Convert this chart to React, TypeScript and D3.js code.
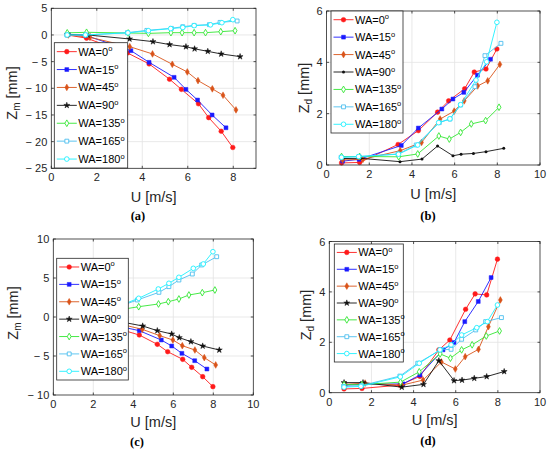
import { useEffect, useRef } from 'react';
import * as d3 from 'd3';

// wind angle labels and series styles
const waLabels = ['0', '15', '45', '90', '135', '165', '180'];
const waColors = ['#ff1a1a', '#1a1aff', '#d95319', '#111111', '#33e633', '#4dbeee', '#1ef0ff'];
const waMarkers = ['circle', 'square', 'diamond', 'star', 'diamondOpen', 'squareOpen', 'circleOpen'];

// wind speed U [m/s] for each series
const uWA0 = [0.7, 1.55, 3.35, 4.3, 5.2, 5.72, 6.47, 6.92, 7.47, 7.98];
const uWA15 = [0.75, 1.52, 3.5, 4.3, 5.4, 5.92, 6.43, 7.07, 7.68];
const uWA45 = [0.75, 1.7, 3.45, 4.45, 5.32, 5.98, 6.45, 7.08, 7.55, 8.12];
const uWA90 = [0.7, 1.6, 3.44, 4.47, 5.2, 5.92, 6.3, 6.88, 7.47, 8.3];
const uWA135 = [0.7, 1.55, 3.38, 4.27, 5.26, 5.75, 6.28, 6.78, 7.45, 8.08];
const uWA165 = [0.68, 1.52, 3.35, 4.2, 5.28, 5.78, 6.28, 6.95, 7.42, 8.17];
const uWA180 = [0.7, 1.5, 3.37, 4.27, 5.25, 5.78, 6.28, 7.0, 7.5, 7.98];
const uSeries = [uWA0, uWA15, uWA45, uWA90, uWA135, uWA165, uWA180];

// (a) Zm
const aWA0 = [0, -0.6, -3.37, -5.43, -8.3, -10.2, -12.9, -15.5, -18.05, -21.1];
const aWA15 = [0.1, -0.1, -2.94, -5.13, -7.94, -10.2, -12.2, -15.0, -17.4];
const aWA45 = [0, -0.44, -2.2, -3.56, -5.5, -6.93, -8.56, -10.1, -11.3, -14.05];
const aWA90 = [0.1, 0, -0.75, -1.25, -1.8, -2.2, -2.6, -3.07, -3.56, -4.06];
const aWA135 = [0.4, 0.5, 0.37, 0.3, 0.43, 0.43, 0.43, 0.43, 0.62, 0.8];
const aWA165 = [0, 0, 0.43, 0.86, 1.24, 1.55, 1.8, 1.93, 2.36, 2.62];
const aWA180 = [0, 0, 0.4, 0.8, 1.2, 1.4, 1.75, 1.9, 2.3, 2.87];

// (b) Zd
const bWA0 = [0.08, 0.1, 0.8, 1.34, 2.06, 2.5, 2.97, 3.62, 3.74, 4.52];
const bWA15 = [0.15, 0.22, 0.76, 1.44, 2.18, 2.57, 2.83, 3.5, 4.12];
const bWA45 = [0.2, 0.22, 0.56, 0.88, 1.79, 2.1, 2.5, 3.08, 3.28, 3.92];
const bWA90 = [0.25, 0.26, 0.13, 0.23, 0.74, 0.36, 0.42, 0.45, 0.52, 0.65];
const bWA135 = [0.33, 0.33, 0.32, 0.43, 1.13, 1.01, 1.27, 1.6, 1.73, 2.25];
const bWA165 = [0.3, 0.33, 0.43, 0.78, 1.65, 1.79, 2.34, 3.05, 4.26, 4.74];
const bWA180 = [0.3, 0.33, 0.42, 0.78, 1.65, 1.8, 2.35, 3.31, 4.02, 5.56];

// (c) Zm
const cWA0 = [0, -0.4, -1.58, -2.31, -3.5, -4.45, -5.43, -6.45, -7.65, -8.93];
const cWA15 = [0, -0.3, -1.31, -1.75, -2.95, -3.72, -4.66, -5.6, -6.67];
const cWA45 = [0, -0.25, -0.97, -1.58, -2.39, -2.95, -3.68, -4.23, -5.21, -6.15];
const cWA90 = [0, -0.2, -0.65, -1.15, -1.75, -2.18, -2.65, -3.16, -3.72, -4.23];
const cWA135 = [0.2, 0.4, 0.95, 1.32, 1.67, 1.96, 2.31, 2.82, 3.12, 3.46];
const cWA165 = [0.2, 0.5, 1.4, 2.18, 3.16, 3.89, 4.74, 5.51, 6.67, 7.73];
const cWA180 = [0.2, 0.5, 1.5, 2.4, 3.59, 4.32, 5.09, 6.24, 6.8, 8.37];

// (d) Zd
const dWA0 = [0.15, 0.17, 0.3, 0.65, 1.7, 2.09, 3.31, 3.92, 3.88, 5.3];
const dWA15 = [0.3, 0.33, 0.35, 0.7, 1.7, 1.99, 2.82, 3.62, 4.57];
const dWA45 = [0.33, 0.38, 0.3, 0.5, 1.22, 0.94, 1.43, 1.72, 2.62, 3.68];
const dWA90 = [0.4, 0.4, 0.22, 0.33, 1.27, 0.48, 0.5, 0.57, 0.64, 0.84];
const dWA135 = [0.32, 0.32, 0.42, 0.83, 1.54, 1.37, 1.7, 1.9, 2.25, 2.45];
const dWA165 = [0.25, 0.28, 0.66, 1.17, 1.7, 1.72, 2.12, 2.49, 2.82, 2.98];
const dWA180 = [0.22, 0.25, 0.63, 1.17, 1.7, 1.9, 2.29, 2.58, 2.82, 3.48];

const panels = [
  {
    key: 'a', left: 51.3, right: 256, top: 8.3, bottom: 168.3,
    xDomain: [0, 9], yDomain: [-25, 5], xTicks: [0, 2, 4, 6, 8], yTicks: [-25, -20, -15, -10, -5, 0, 5],
    sub: 'm', data: [aWA0, aWA15, aWA45, aWA90, aWA135, aWA165, aWA180],
    legend: { x: 54.3, y: 42.7, w: 73.4, h: 125.3 }, dot90: false,
    yLabel: { x: 17, y: 93 }, xLabelY: 202, caption: { x: 138, y: 220 },
  },
  {
    key: 'b', left: 326.6, right: 540, top: 11, bottom: 165,
    xDomain: [0, 10], yDomain: [0, 6], xTicks: [0, 2, 4, 6, 8, 10], yTicks: [0, 2, 4, 6],
    sub: 'd', data: [bWA0, bWA15, bWA45, bWA90, bWA135, bWA165, bWA180],
    legend: { x: 331, y: 11, w: 72, h: 122 }, dot90: true,
    yLabel: { x: 309, y: 88 }, xLabelY: 199, caption: { x: 428, y: 220 },
  },
  {
    key: 'c', left: 53.3, right: 253.3, top: 239, bottom: 395,
    xDomain: [0, 10], yDomain: [-10, 10], xTicks: [0, 2, 4, 6, 8, 10], yTicks: [-10, -5, 0, 5, 10],
    sub: 'm', data: [cWA0, cWA15, cWA45, cWA90, cWA135, cWA165, cWA180],
    legend: { x: 56.7, y: 258.3, w: 71.6, h: 121.7 }, dot90: false,
    yLabel: { x: 18, y: 313 }, xLabelY: 427, caption: { x: 137, y: 446 },
  },
  {
    key: 'd', left: 329.3, right: 540, top: 241.5, bottom: 392.7,
    xDomain: [0, 10], yDomain: [0, 6], xTicks: [0, 2, 4, 6, 8, 10], yTicks: [0, 2, 4, 6],
    sub: 'd', data: [dWA0, dWA15, dWA45, dWA90, dWA135, dWA165, dWA180],
    legend: { x: 334.3, y: 244, w: 69, h: 118 }, dot90: false,
    yLabel: { x: 311, y: 315 }, xLabelY: 425, caption: { x: 428, y: 445 },
  },
];

const FONT = '"Liberation Sans", Arial, sans-serif';

function drawMarker(g: any, kind: string, x: number, y: number, color: string, dot: boolean) {
  if (dot && kind === 'star') {
    g.append('circle').attr('cx', x).attr('cy', y).attr('r', 1.5).attr('fill', color);
    return;
  }
  const open = kind.endsWith('Open');
  const base = kind.replace('Open', '');
  const type =
    base === 'circle' ? d3.symbolCircle :
    base === 'square' ? d3.symbolSquare :
    base === 'diamond' ? d3.symbolDiamond : d3.symbolStar;
  const size = base === 'star' ? 11 : base === 'diamond' ? 13 : base === 'square' ? 15 : 17;
  g.append('path')
    .attr('d', d3.symbol().type(type).size(size)())
    .attr('transform', `translate(${x},${y})`)
    .attr('fill', open ? 'white' : color)
    .attr('stroke', color)
    .attr('stroke-width', open ? 0.9 : 0.5);
}

function fmt(v: number) {
  return v < 0 ? `\u2212 ${Math.abs(v)}` : `${v}`;
}

export default function App() {
  const svgRef = useRef<SVGSVGElement>(null);

  useEffect(() => {
    if (!svgRef.current) return;
    const svg = d3.select(svgRef.current);
    svg.selectAll('*').remove();

    svg.append('rect').attr('width', 550).attr('height', 451).attr('fill', 'white');

    panels.forEach((p) => {
      const g = svg.append('g');
      const x = d3.scaleLinear().domain(p.xDomain).range([p.left, p.right]);
      const y = d3.scaleLinear().domain(p.yDomain).range([p.bottom, p.top]);

      // grid
      p.xTicks.forEach((t) => {
        if (x(t) <= p.left + 0.5 || x(t) >= p.right - 0.5) return;
        g.append('line').attr('x1', x(t)).attr('x2', x(t)).attr('y1', p.top).attr('y2', p.bottom)
          .attr('stroke', '#e3e3e3').attr('stroke-width', 0.8);
      });
      p.yTicks.forEach((t) => {
        if (y(t) <= p.top + 0.5 || y(t) >= p.bottom - 0.5) return;
        g.append('line').attr('x1', p.left).attr('x2', p.right).attr('y1', y(t)).attr('y2', y(t))
          .attr('stroke', '#e3e3e3').attr('stroke-width', 0.8);
      });

      // series
      const line = d3.line<[number, number]>().x((d) => x(d[0])).y((d) => y(d[1]));
      p.data.forEach((vals, i) => {
        const pts: [number, number][] = vals.map((v, j) => [uSeries[i][j], v]);
        g.append('path').datum(pts).attr('d', line).attr('fill', 'none')
          .attr('stroke', waColors[i]).attr('stroke-width', 0.9);
        pts.forEach((d) => drawMarker(g, waMarkers[i], x(d[0]), y(d[1]), waColors[i], p.dot90));
      });

      // box and ticks
      g.append('rect').attr('x', p.left).attr('y', p.top)
        .attr('width', p.right - p.left).attr('height', p.bottom - p.top)
        .attr('fill', 'none').attr('stroke', '#262626').attr('stroke-width', 0.8);
      p.xTicks.forEach((t) => {
        g.append('line').attr('x1', x(t)).attr('x2', x(t)).attr('y1', p.bottom).attr('y2', p.bottom - 2.5)
          .attr('stroke', '#262626').attr('stroke-width', 0.8);
        g.append('line').attr('x1', x(t)).attr('x2', x(t)).attr('y1', p.top).attr('y2', p.top + 2.5)
          .attr('stroke', '#262626').attr('stroke-width', 0.8);
        g.append('text').attr('x', x(t)).attr('y', p.bottom + 13).attr('text-anchor', 'middle')
          .attr('font-family', FONT).attr('font-size', 11).attr('fill', '#262626').text(fmt(t));
      });
      p.yTicks.forEach((t) => {
        g.append('line').attr('x1', p.left).attr('x2', p.left + 2.5).attr('y1', y(t)).attr('y2', y(t))
          .attr('stroke', '#262626').attr('stroke-width', 0.8);
        g.append('line').attr('x1', p.right).attr('x2', p.right - 2.5).attr('y1', y(t)).attr('y2', y(t))
          .attr('stroke', '#262626').attr('stroke-width', 0.8);
        g.append('text').attr('x', p.left - 4).attr('y', y(t) + 4).attr('text-anchor', 'end')
          .attr('font-family', FONT).attr('font-size', 11).attr('fill', '#262626').text(fmt(t));
      });

      // axis labels
      g.append('text').attr('x', (p.left + p.right) / 2).attr('y', p.xLabelY).attr('text-anchor', 'middle')
        .attr('font-family', FONT).attr('font-size', 14.5).attr('fill', '#262626').text('U [m/s]');
      const yl = g.append('text')
        .attr('transform', `translate(${p.yLabel.x},${p.yLabel.y}) rotate(-90)`)
        .attr('text-anchor', 'middle').attr('font-family', FONT).attr('font-size', 14.5).attr('fill', '#262626');
      yl.append('tspan').text('Z');
      yl.append('tspan').attr('font-size', 10).attr('dy', 3).text(p.sub);
      yl.append('tspan').attr('dy', -3).text(' [mm]');

      // legend
      const L = p.legend;
      g.append('rect').attr('x', L.x).attr('y', L.y).attr('width', L.w).attr('height', L.h)
        .attr('fill', 'white').attr('stroke', '#262626').attr('stroke-width', 0.8);
      waLabels.forEach((lab, i) => {
        const cy = L.y + (L.h * (i + 0.5)) / 7;
        g.append('line').attr('x1', L.x + 2.5).attr('x2', L.x + 22.5).attr('y1', cy).attr('y2', cy)
          .attr('stroke', waColors[i]).attr('stroke-width', 0.9);
        drawMarker(g, waMarkers[i], L.x + 12.5, cy, waColors[i], p.dot90);
        const t = g.append('text').attr('x', L.x + 24).attr('y', cy + 4)
          .attr('font-family', FONT).attr('font-size', 11).attr('fill', '#000');
        t.append('tspan').text(`WA=${lab}`);
        t.append('tspan').attr('font-size', 7.5).attr('dy', -4.5).text('o');
      });

      // caption
      g.append('text').attr('x', p.caption.x).attr('y', p.caption.y).attr('text-anchor', 'middle')
        .attr('font-family', '"Liberation Serif", "Times New Roman", serif').attr('font-weight', 'bold')
        .attr('font-size', 12.5).attr('fill', '#000').text(`(${p.key})`);
    });
  }, []);

  return (
    <div style={{ position: 'absolute', left: 0, top: 0 }}>
      <svg ref={svgRef} width={550} height={451} style={{ display: 'block' }} />
    </div>
  );
}
